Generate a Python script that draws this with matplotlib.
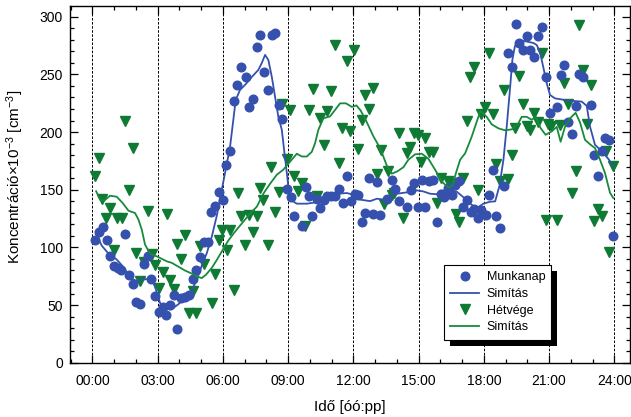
import matplotlib
matplotlib.use("Agg")
import matplotlib.pyplot as plt
from matplotlib.ticker import MultipleLocator, FixedLocator
from matplotlib.patches import Rectangle
from matplotlib.lines import Line2D
from matplotlib.transforms import IdentityTransform

plt.rcParams['font.family'] = ['Liberation Sans', 'DejaVu Sans']
plt.rcParams['mathtext.fontset'] = 'custom'
plt.rcParams['mathtext.rm'] = 'Liberation Sans'
plt.rcParams['mathtext.it'] = 'Liberation Sans:italic'
plt.rcParams['mathtext.default'] = 'regular'

# --- Workday measurements (time in hours, concentration x 10^-3 cm^-3) ---
work_t = [0.12, 0.29, 0.48, 0.66, 0.83, 1.00, 1.20, 1.33, 1.52, 1.69,
          1.86, 2.01, 2.19, 2.36, 2.55, 2.71, 2.88, 3.05, 3.24, 3.40,
          3.59, 3.74, 3.91, 4.09, 4.25, 4.43, 4.62, 4.78, 4.95, 5.14,
          5.31, 5.47, 5.63, 5.83, 6.00, 6.16, 6.32, 6.53, 6.67, 6.84,
          7.05, 7.21, 7.38, 7.56, 7.71, 7.91, 8.06, 8.25, 8.40, 8.58,
          8.74, 8.94, 9.11, 9.27, 9.63, 9.81, 9.98, 10.12, 10.32, 10.47,
          10.65, 10.81, 10.98, 11.16, 11.36, 11.51, 11.70, 11.88, 12.06, 12.22,
          12.39, 12.55, 12.72, 12.89, 13.07, 13.23, 13.56, 13.77, 13.93, 14.10,
          14.45, 14.63, 14.79, 14.96, 15.15, 15.31, 15.48, 15.64, 15.83, 16.02,
          16.18, 16.36, 16.53, 16.69, 16.87, 17.04, 17.21, 17.39, 17.54, 17.72,
          17.89, 18.09, 18.23, 18.42, 18.58, 18.75, 18.94, 19.11, 19.28, 19.47,
          19.63, 19.79, 19.97, 20.14, 20.32, 20.51, 20.66, 20.85, 21.02, 21.35,
          21.54, 21.70, 21.87, 22.05, 22.22, 22.39, 22.56, 22.92, 23.05, 23.24,
          23.42, 23.58, 23.77, 23.93]
work_v = [106.1, 113.0, 117.7, 106.7, 92.3, 83.6, 82.2, 80.2, 111.7, 75.8,
          68.6, 52.8, 51.3, 86.0, 92.9, 73.0, 57.6, 43.8, 48.7, 41.5,
          49.9, 58.9, 29.1, 55.7, 57.1, 59.1, 72.7, 80.5, 92.0, 104.7,
          104.7, 131.0, 136.2, 148.3, 140.7, 171.4, 184.0, 226.8, 241.2, 256.2,
          247.6, 222.1, 229.0, 273.5, 283.9, 252.1, 236.6, 284.4, 285.6, 223.8,
          211.2, 150.6, 143.5, 127.5, 118.2, 152.3, 144.4, 127.2, 142.0, 134.0,
          140.9, 144.2, 144.2, 144.2, 150.6, 138.5, 162.1, 140.5, 146.5, 145.7,
          122.3, 129.8, 160.4, 129.2, 156.3, 128.4, 142.0, 158.4, 150.6, 140.5,
          135.0, 149.4, 155.8, 135.0, 158.1, 135.0, 157.4, 158.1, 121.9, 146.1,
          143.5, 151.7, 145.5, 154.1, 157.4, 135.3, 140.7, 131.0, 133.4, 125.9,
          132.4, 127.8, 145.8, 166.7, 127.5, 116.4, 153.5, 268.8, 256.5, 293.3,
          277.2, 270.9, 283.5, 270.9, 265.1, 283.7, 290.8, 248.1, 216.1, 221.6,
          249.5, 258.4, 209.0, 198.0, 222.7, 250.4, 247.6, 223.3, 180.0, 161.5,
          184.0, 194.8, 193.5, 110.2]

# Smoothed workday curve
work_smooth_t = [0.17, 0.43, 0.74, 1.12, 1.43, 1.73, 2.04, 2.35, 2.73, 2.92,
                 3.11, 3.34, 3.62, 3.94, 4.26, 4.57, 4.80, 5.03, 5.26, 5.49,
                 5.72, 5.95, 6.18, 6.33, 6.48, 6.59, 6.79, 7.02, 7.33, 7.63,
                 7.79, 7.94, 8.09, 8.25, 8.40, 8.55, 8.71, 8.83, 8.94, 9.04,
                 9.17, 9.40, 9.86, 10.32, 10.78, 11.24, 11.70, 12.00, 12.31, 12.77,
                 13.08, 13.38, 13.69, 14.00, 14.46, 14.92, 15.22, 15.53, 15.83, 16.14,
                 16.45, 16.75, 17.06, 17.37, 17.67, 17.98, 18.29, 18.52, 18.72, 18.90,
                 19.05, 19.21, 19.31, 19.43, 19.66, 19.97, 20.28, 20.43, 20.58, 20.74,
                 20.89, 21.04, 21.27, 21.89, 22.50, 22.73, 22.88, 23.11, 23.42, 23.72,
                 23.95]
work_smooth_v = [111.9, 101.5, 94.6, 89.4, 82.9, 73.8, 70.8, 72.1, 73.2, 63.4,
                 51.9, 47.0, 46.1, 50.5, 56.1, 62.6, 72.1, 84.2, 95.0, 109.3,
                 127.5, 150.0, 172.5, 187.2, 210.6, 227.9, 236.6, 240.9, 247.8, 253.9,
                 259.9, 266.9, 262.5, 247.8, 230.5, 213.2, 201.9, 182.0, 164.7, 147.4,
                 140.5, 137.9, 137.9, 139.2, 143.9, 146.5, 147.1, 145.7, 141.4, 140.1,
                 142.2, 141.4, 143.7, 146.5, 147.7, 149.4, 148.5, 146.5, 146.1, 149.1,
                 150.0, 148.3, 143.5, 137.9, 134.0, 137.9, 139.6, 139.9, 153.5, 176.0,
                 204.5, 239.2, 262.5, 274.6, 279.4, 278.5, 277.2, 275.5, 269.5, 255.6,
                 242.4, 232.2, 229.2, 227.3, 226.4, 222.7, 204.8, 189.0, 183.3, 176.8,
                 170.8]

# --- Weekend measurements ---
weekend_t = [0.12, 0.31, 0.45, 0.64, 0.81, 1.00, 1.14, 1.34, 1.50, 1.67,
             1.85, 2.01, 2.19, 2.35, 2.55, 2.72, 2.88, 3.06, 3.24, 3.41,
             3.58, 3.74, 3.90, 4.09, 4.26, 4.43, 4.62, 4.75, 4.96, 5.14,
             5.49, 5.63, 5.80, 5.98, 6.18, 6.33, 6.52, 6.68, 6.85, 7.02,
             7.19, 7.39, 7.56, 7.69, 7.86, 8.08, 8.21, 8.40, 8.59, 8.73,
             8.93, 9.10, 9.27, 9.44, 9.63, 9.79, 9.97, 10.13, 10.32, 10.47,
             10.65, 10.81, 10.99, 11.16, 11.35, 11.49, 11.70, 11.86, 12.03, 12.21,
             12.38, 12.54, 12.72, 12.89, 13.07, 13.25, 13.40, 13.60, 13.78, 13.89,
             14.10, 14.26, 14.46, 14.62, 14.78, 14.96, 15.13, 15.31, 15.49, 15.66,
             15.83, 16.02, 16.19, 16.36, 16.53, 16.71, 16.85, 17.03, 17.21, 17.37,
             17.56, 17.72, 17.88, 18.07, 18.24, 18.44, 18.58, 18.75, 18.94, 19.12,
             19.28, 19.42, 19.63, 19.79, 19.97, 20.12, 20.32, 20.51, 20.67, 20.85,
             20.95, 21.09, 21.35, 21.50, 21.70, 21.87, 22.05, 22.22, 22.39, 22.55,
             22.75, 22.91, 23.07, 23.26, 23.42, 23.60, 23.77, 23.94]
weekend_v = [161.5, 177.4, 142.0, 125.8, 134.2, 98.1, 125.8, 125.5, 209.7, 149.7,
             186.1, 94.9, 71.2, 87.4, 131.8, 94.6, 84.7, 64.6, 79.0, 129.0,
             72.1, 63.7, 103.1, 90.0, 110.9, 42.7, 62.6, 43.5, 101.5, 86.0,
             51.6, 76.7, 106.3, 115.4, 98.1, 115.4, 63.2, 146.8, 127.2, 102.4,
             128.4, 113.0, 126.9, 151.1, 141.1, 102.1, 169.9, 130.5, 147.7, 224.4,
             176.8, 218.8, 161.9, 149.1, 155.8, 118.2, 219.2, 237.7, 144.6, 212.1,
             189.0, 218.4, 235.3, 275.5, 172.8, 203.4, 261.7, 200.5, 271.2, 184.9,
             210.3, 232.2, 219.9, 238.0, 164.0, 184.4, 137.5, 166.5, 145.2, 147.4,
             199.5, 125.2, 181.8, 187.1, 199.5, 197.6, 174.1, 195.2, 183.1, 182.5,
             138.5, 160.1, 145.1, 157.2, 155.8, 128.8, 122.3, 160.2, 209.7, 247.4,
             256.7, 149.6, 215.4, 221.8, 268.3, 215.5, 172.1, 157.8, 236.6, 159.5,
             180.3, 203.7, 248.9, 224.4, 205.4, 201.9, 216.4, 208.4, 268.6, 124.0,
             207.1, 205.4, 124.0, 205.8, 242.6, 224.3, 147.1, 166.5, 292.8, 253.9,
             206.7, 240.9, 122.6, 133.3, 127.5, 183.2, 95.7, 170.5]

# Smoothed weekend curve
weekend_smooth_t = [0.17, 0.35, 0.54, 0.81, 1.12, 1.39, 1.66, 1.96, 2.12, 2.27,
                    2.42, 2.65, 3.03, 3.42, 3.65, 3.94, 4.26, 4.57, 4.80, 5.03,
                    5.23, 5.50, 5.73, 6.00, 6.25, 6.56, 6.94, 7.25, 7.56, 7.86,
                    8.17, 8.48, 8.78, 9.01, 9.24, 9.40, 9.63, 9.86, 10.09, 10.24,
                    10.39, 10.62, 10.93, 11.16, 11.39, 11.66, 11.93, 12.14, 12.33, 12.62,
                    12.92, 13.23, 13.54, 13.77, 14.03, 14.30, 14.53, 14.84, 15.15, 15.45,
                    15.76, 16.06, 16.37, 16.56, 16.72, 16.91, 17.14, 17.44, 17.67, 17.85,
                    18.13, 18.36, 18.67, 18.98, 19.30, 19.59, 19.74, 19.97, 20.20, 20.38,
                    20.61, 20.84, 21.12, 21.35, 21.53, 21.73, 21.96, 22.22, 22.42, 22.65,
                    22.88, 23.11, 23.34, 23.57, 23.80, 23.95]
weekend_smooth_v = [148.7, 141.4, 140.5, 144.8, 143.9, 138.5, 131.8, 129.8, 124.0, 115.4,
                    102.4, 94.6, 91.6, 87.9, 86.6, 83.4, 79.9, 77.3, 74.7, 73.4,
                    76.4, 82.5, 89.4, 98.1, 105.9, 113.7, 122.3, 129.2, 135.3, 146.5,
                    155.2, 163.0, 167.4, 172.5, 177.7, 181.2, 178.8, 178.8, 182.9, 190.4,
                    201.9, 211.9, 213.6, 219.2, 224.9, 224.9, 221.8, 223.1, 218.8, 208.4,
                    196.3, 186.1, 170.8, 163.9, 166.0, 169.5, 176.0, 180.7, 181.2, 176.8,
                    167.3, 157.2, 151.7, 153.9, 164.7, 176.0, 181.6, 195.9, 208.9, 218.4,
                    213.2, 206.7, 203.2, 201.5, 202.4, 207.7, 213.2, 213.2, 210.6, 213.2,
                    203.4, 197.6, 200.6, 204.5, 191.6, 204.5, 211.9, 216.7, 208.4, 193.3,
                    189.4, 186.1, 176.0, 164.5, 147.4, 142.8]

hour_ticks = [0, 3, 6, 9, 12, 15, 18, 21, 24]
hour_labels = ['00:00', '03:00', '06:00', '09:00', '12:00',
               '15:00', '18:00', '21:00', '24:00']

BLUE = '#3551ad'
GREEN = '#0f7a34'
GREEN_LINE = '#178a3c'

fig = plt.figure(figsize=(6.31, 4.17), dpi=100)
ax = fig.add_axes([70 / 631, 1 - 362.7 / 417, 560 / 631, 356.7 / 417])

# dashed guide lines every three hours
for h in hour_ticks:
    ax.axvline(h, color='black', lw=0.7, ls=(0, (2.6, 1.6)), zorder=1)

ax.plot(weekend_t, weekend_v, ls='none', marker='v', ms=6.8,
        color=GREEN, mec=GREEN, zorder=2)
ax.plot(work_t, work_v, ls='none', marker='o', ms=6.2,
        color=BLUE, mec=BLUE, zorder=3)
ax.plot(work_smooth_t, work_smooth_v, color=BLUE, lw=1.3, zorder=4)
ax.plot(weekend_smooth_t, weekend_smooth_v, color=GREEN_LINE, lw=1.3, zorder=4)

ax.set_xlim(-1.03, 24.72)
ax.set_ylim(0, 309.3)
ax.xaxis.set_major_locator(FixedLocator(hour_ticks))
ax.set_xticklabels(hour_labels)
ax.xaxis.set_minor_locator(MultipleLocator(1))
ax.yaxis.set_major_locator(MultipleLocator(50))
ax.yaxis.set_minor_locator(MultipleLocator(10))
ax.tick_params(which='both', direction='in', top=True, right=True,
               width=0.9, colors='black')
ax.tick_params(which='major', length=5.5, labelsize=10)
ax.tick_params(axis='x', which='major', pad=8)
ax.tick_params(axis='y', which='major', pad=5)
ax.tick_params(which='minor', length=3)
for sp in ax.spines.values():
    sp.set_linewidth(1.0)

ax.set_xlabel('Idő [óó:pp]', fontsize=11)
ax.xaxis.set_label_coords(0.5, -0.105)
ax.set_ylabel('Koncentráció×10$^{-3}$ [cm$^{-3}$]', fontsize=11)
ax.yaxis.set_label_coords(-0.078, 0.52)

handles = [
    Line2D([], [], ls='none', marker='o', ms=6.2, color=BLUE),
    Line2D([], [], color=BLUE, lw=1.3),
    Line2D([], [], ls='none', marker='v', ms=6.8, color=GREEN),
    Line2D([], [], color=GREEN_LINE, lw=1.3),
]
labels = ['Munkanap', 'Simítás', 'Hétvége', 'Simítás']
leg = ax.legend(handles, labels, loc='upper left', bbox_to_anchor=(0.668, 0.274),
                borderaxespad=0, frameon=True, fancybox=False, fontsize=9,
                handlelength=2.3, handletextpad=0.6, labelspacing=0.38,
                borderpad=0.5, framealpha=1)
leg.get_frame().set_edgecolor('black')
leg.get_frame().set_linewidth(0.8)
leg.set_zorder(6)

# solid drop shadow behind the legend box
fig.canvas.draw()
bb = leg.get_frame().get_window_extent()
shadow = Rectangle((bb.x0 + 6, bb.y0 - 6), bb.width, bb.height,
                   transform=IdentityTransform(), facecolor='black',
                   edgecolor='none', zorder=5.5, clip_on=False)
ax.add_patch(shadow)

fig.savefig('out.png', dpi=100)
